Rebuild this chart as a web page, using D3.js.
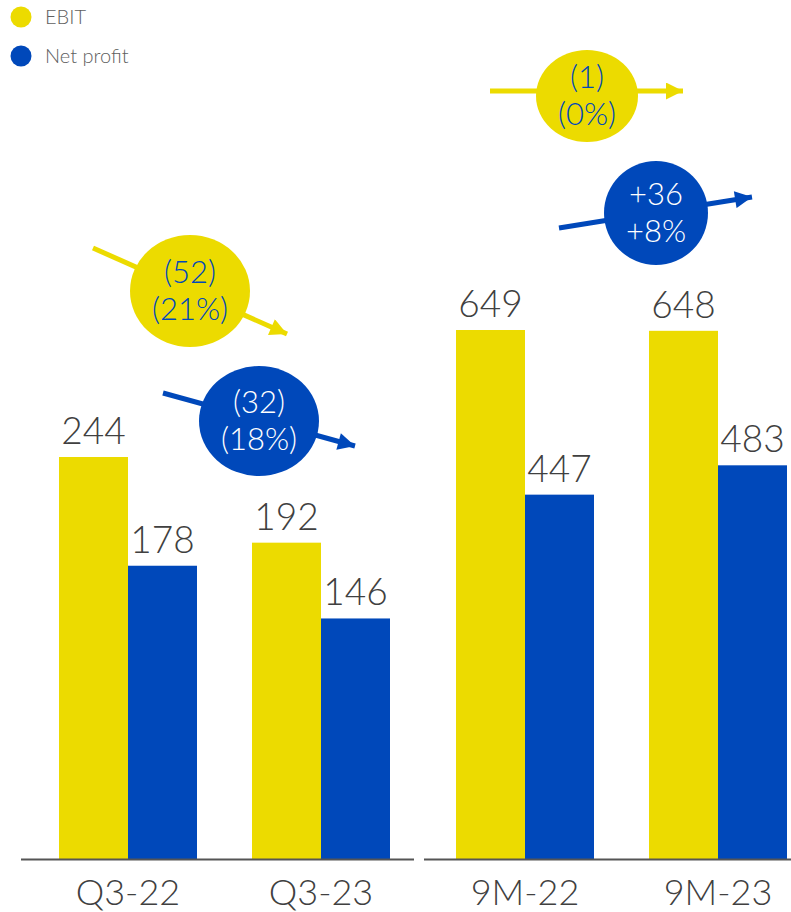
<!DOCTYPE html>
<html>
<head>
<meta charset="utf-8">
<script src="https://cdn.jsdelivr.net/npm/d3@7"></script>
<style>
  html, body { margin: 0; padding: 0; background: #fff; }
  svg { display: block; font-family: "Lato", "Open Sans", sans-serif; font-weight: 300; }
</style>
</head>
<body>
<svg id="chart" width="791" height="912"></svg>
<script>
// Quarterly and nine-month figures, EBIT vs net profit
const seriesNames = ["EBIT", "Net profit"];
const quarterPeriods = ["Q3-22", "Q3-23"];
const quarterEbit = [244, 192];
const quarterNet = [178, 146];
const ninePeriods = ["9M-22", "9M-23"];
const nineEbit = [649, 648];
const nineNet = [447, 483];

const YELLOW = "#ECDB00";
const BLUE = "#0048BA";
const TEXT = "#404040";

const svg = d3.select("#chart");
const baseY = 859;

function changeLabel(a, b) {
  const d = b - a;
  const p = Math.round(d / a * 100);
  const fmt = v => v < 0 ? "(" + Math.abs(v) + ")" : (v > 0 ? "+" + v : "(" + v + ")");
  const fmtP = v => v < 0 ? "(" + Math.abs(v) + "%)" : (v > 0 ? "+" + v + "%" : "(0%)");
  return [fmt(d), fmtP(p)];
}

// Each panel has its own value scale
const panels = [
  { periods: quarterPeriods, ebit: quarterEbit, net: quarterNet,
    x0: 21, x1: 414, bandRange: [59, 390], topY: 457 },
  { periods: ninePeriods, ebit: nineEbit, net: nineNet,
    x0: 424, x1: 791, bandRange: [456, 787], topY: 330 }
];

panels.forEach(p => {
  const maxV = d3.max(p.ebit.concat(p.net));
  const y = d3.scaleLinear().domain([0, maxV]).range([baseY, p.topY]);
  const x = d3.scaleBand().domain(p.periods).range(p.bandRange).paddingInner(0.285).paddingOuter(0);
  const xs = d3.scaleBand().domain(seriesNames).range([0, x.bandwidth()]);

  const rows = p.periods.map((per, i) => ({ per, vals: [p.ebit[i], p.net[i]] }));
  const g = svg.append("g");
  const grp = g.selectAll("g.grp").data(rows).join("g")
    .attr("transform", d => `translate(${x(d.per)},0)`);

  grp.selectAll("rect").data(d => d.vals.map((v, k) => ({ v, s: seriesNames[k] })))
    .join("rect")
    .attr("x", d => xs(d.s))
    .attr("y", d => y(d.v))
    .attr("width", xs.bandwidth())
    .attr("height", d => baseY - y(d.v))
    .attr("fill", d => d.s === "EBIT" ? YELLOW : BLUE);

  grp.selectAll("text.val").data(d => d.vals.map((v, k) => ({ v, s: seriesNames[k] })))
    .join("text")
    .attr("class", "val")
    .attr("x", d => xs(d.s) + xs.bandwidth() / 2)
    .attr("y", d => y(d.v) - 13)
    .attr("text-anchor", "middle")
    .attr("font-size", 37)
    .attr("fill", TEXT)
    .text(d => d.v);

  // baseline
  g.append("line")
    .attr("x1", p.x0).attr("x2", p.x1)
    .attr("y1", baseY + 0.5).attr("y2", baseY + 0.5)
    .attr("stroke", "#555").attr("stroke-width", 2);

  // category labels
  g.selectAll("text.cat").data(p.periods).join("text")
    .attr("class", "cat")
    .attr("x", d => x(d) + x.bandwidth() / 2)
    .attr("y", 905)
    .attr("text-anchor", "middle")
    .attr("font-size", 36)
    .attr("fill", TEXT)
    .text(d => d);
});

// Legend
const legend = svg.append("g");
seriesNames.forEach((s, i) => {
  legend.append("circle")
    .attr("cx", 21).attr("cy", 17 + i * 39).attr("r", 10.5)
    .attr("fill", i === 0 ? YELLOW : BLUE);
  legend.append("text")
    .attr("x", 45).attr("y", 24 + i * 39)
    .attr("font-size", 20).attr("fill", "#606060")
    .text(s);
});

// Change bubbles with trend arrows
const defs = svg.append("defs");
[["ahY", YELLOW], ["ahB", BLUE]].forEach(([id, c]) => {
  defs.append("marker").attr("id", id)
    .attr("viewBox", "0 0 10 10").attr("refX", 10).attr("refY", 5)
    .attr("markerUnits", "userSpaceOnUse")
    .attr("markerWidth", 19).attr("markerHeight", 17)
    .attr("orient", "auto")
    .append("path").attr("d", "M0,0 L10,5 L0,10 Z").attr("fill", c);
});

const bubbles = [
  { lines: changeLabel(quarterEbit[0], quarterEbit[1]), fill: YELLOW, text: BLUE, marker: "ahY",
    from: [93, 248], to: [287, 334], cx: 190, cy: 291, rx: 60, ry: 56 },
  { lines: changeLabel(quarterNet[0], quarterNet[1]), fill: BLUE, text: "#fff", marker: "ahB",
    from: [163, 393], to: [355, 446], cx: 259, cy: 421, rx: 60, ry: 55 },
  { lines: changeLabel(nineEbit[0], nineEbit[1]), fill: YELLOW, text: BLUE, marker: "ahY",
    from: [490, 91], to: [683, 91], cx: 587, cy: 96, rx: 51, ry: 46 },
  { lines: changeLabel(nineNet[0], nineNet[1]), fill: BLUE, text: "#fff", marker: "ahB",
    from: [559, 228], to: [752, 197], cx: 656, cy: 213, rx: 52, ry: 52 }
];

bubbles.forEach(b => {
  const g = svg.append("g");
  g.append("line")
    .attr("x1", b.from[0]).attr("y1", b.from[1])
    .attr("x2", b.to[0]).attr("y2", b.to[1])
    .attr("stroke", b.fill).attr("stroke-width", 5)
    .attr("marker-end", `url(#${b.marker})`);
  g.append("ellipse")
    .attr("cx", b.cx).attr("cy", b.cy).attr("rx", b.rx).attr("ry", b.ry)
    .attr("fill", b.fill);
  b.lines.forEach((t, i) => {
    g.append("text")
      .attr("x", b.cx).attr("y", b.cy - 8 + i * 37)
      .attr("text-anchor", "middle")
      .attr("font-size", 31)
      .attr("fill", b.text)
      .text(t);
  });
});
</script>
</body>
</html>
